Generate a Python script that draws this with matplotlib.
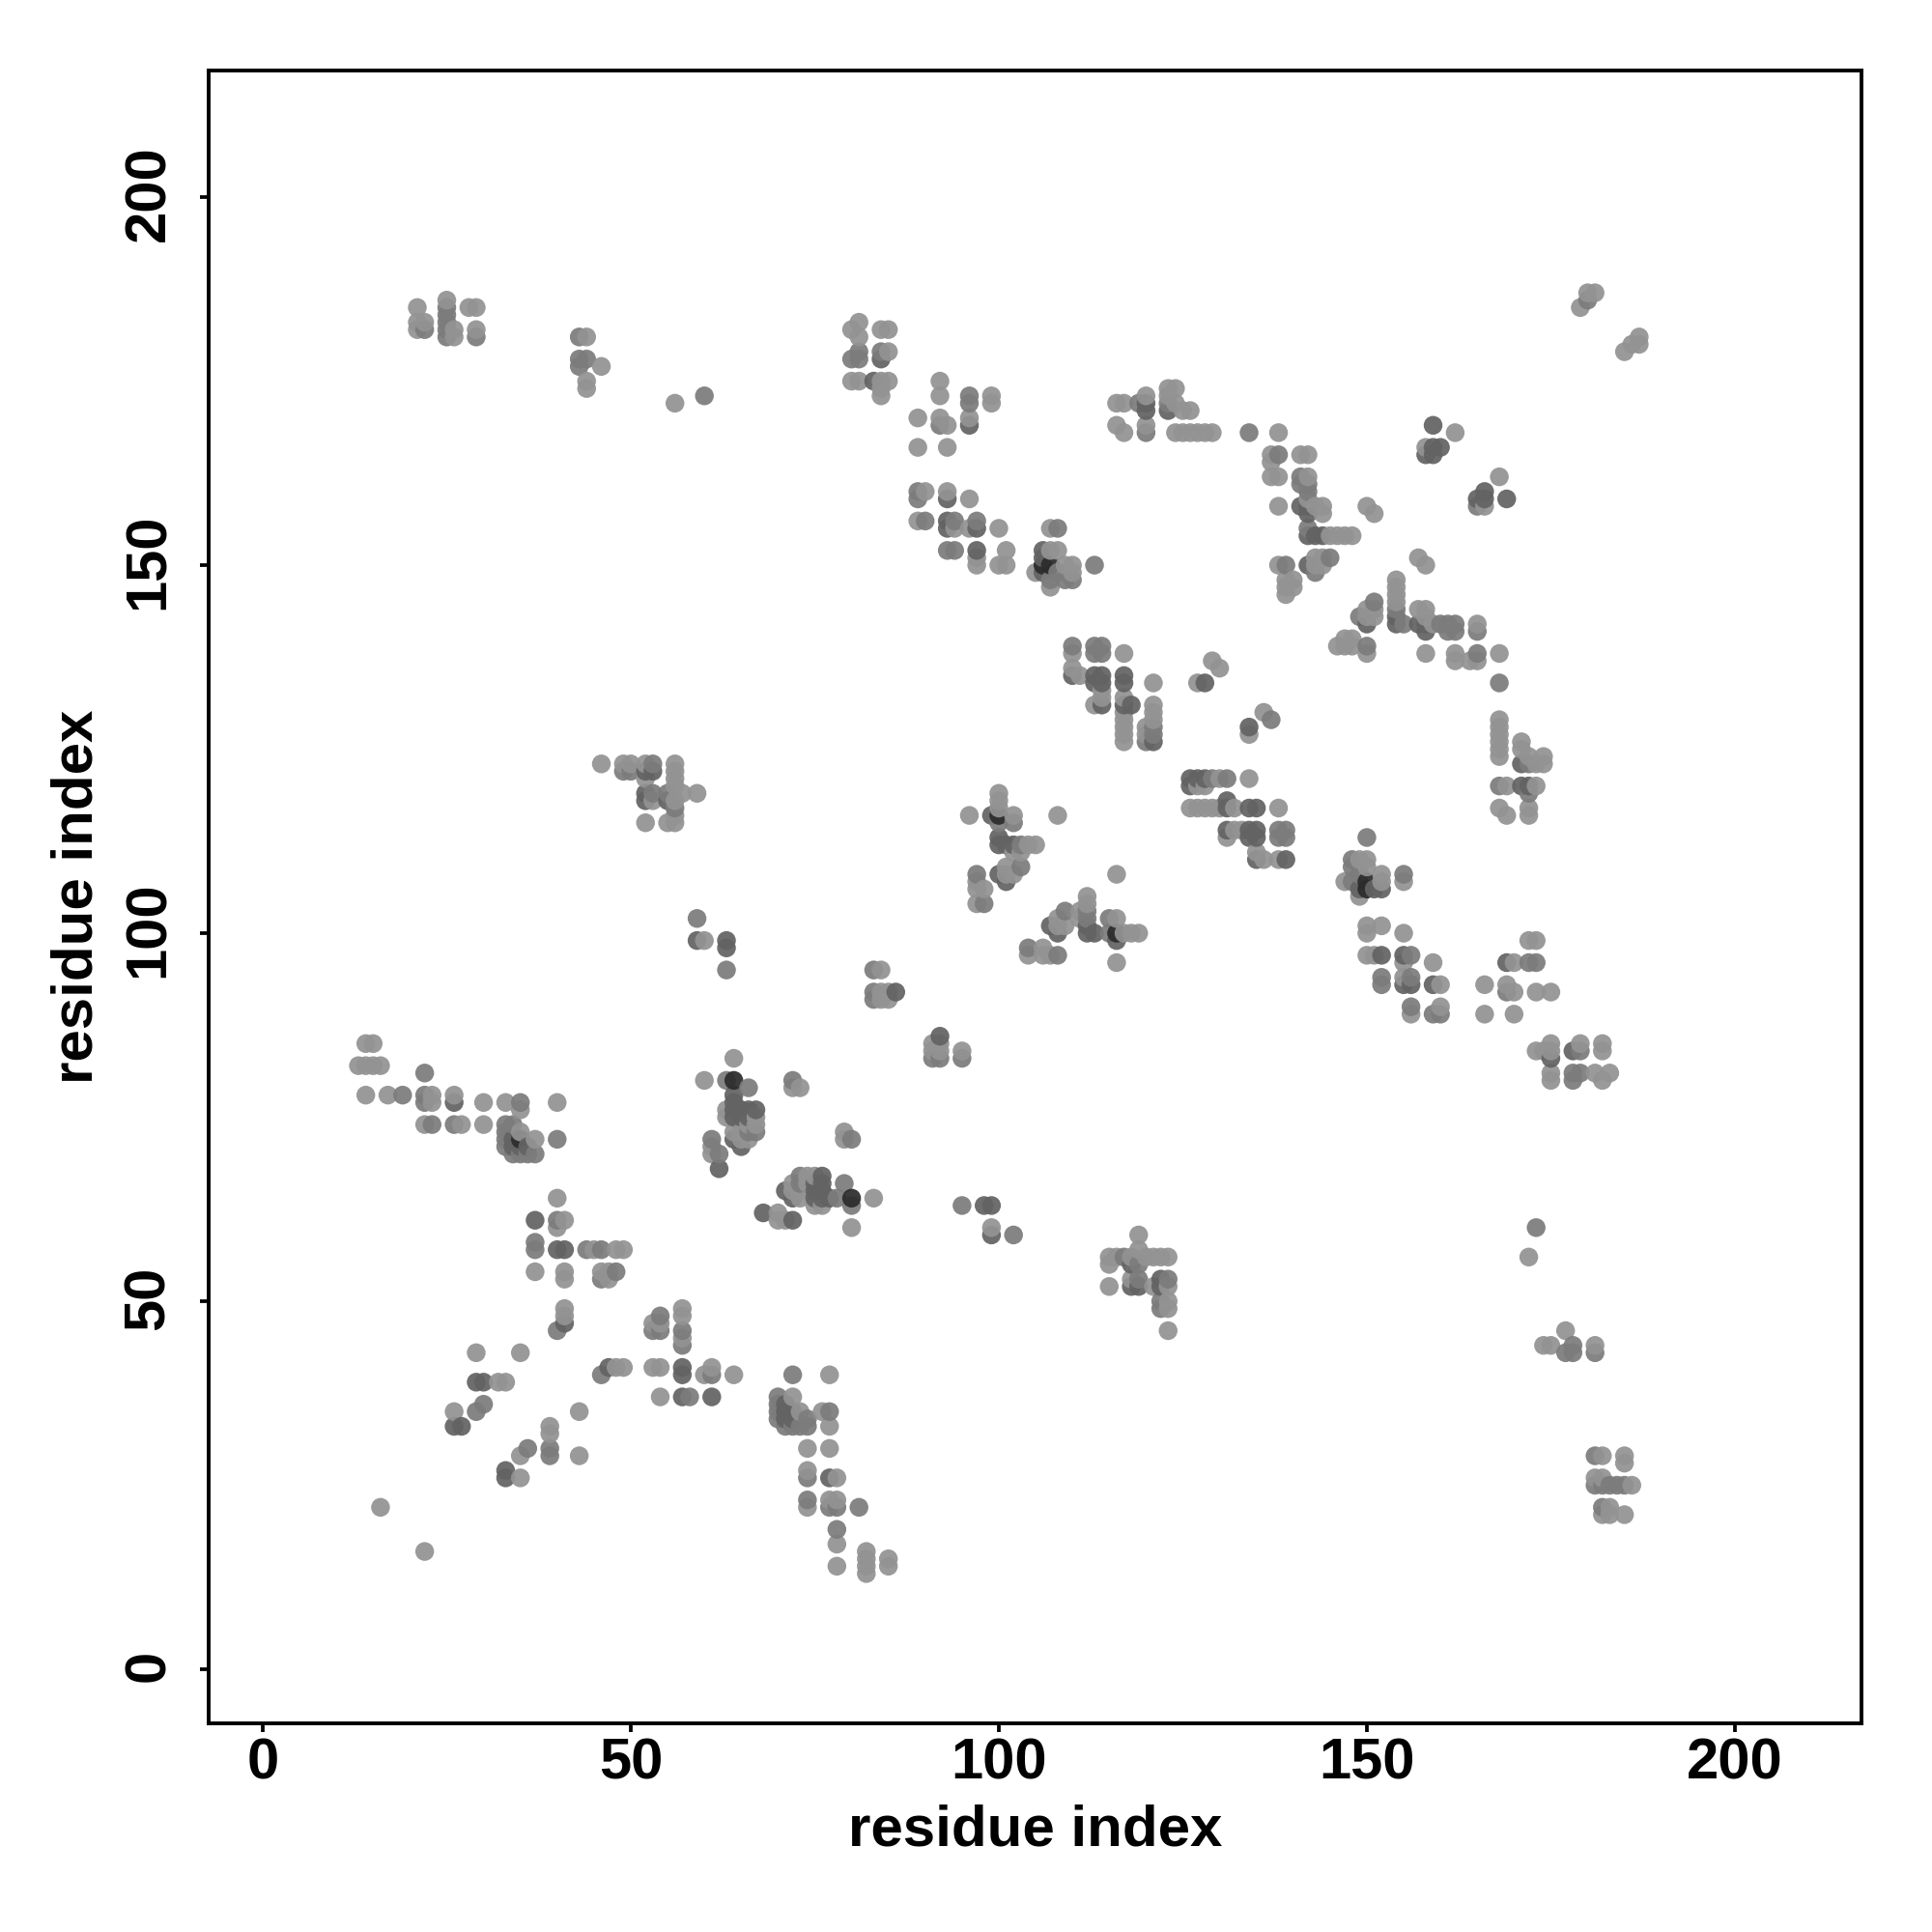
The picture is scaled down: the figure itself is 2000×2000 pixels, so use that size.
import matplotlib
matplotlib.use("Agg")
import matplotlib.pyplot as plt
from matplotlib.transforms import ScaledTranslation

# Contacts as (x residue, y residue); the map is symmetric,
# so each contact read on one side also appears mirrored.
LIGHT = [(16,22),(35,26),(26,35),(35,29),(29,43),(35,43),(32,39),(33,39),(39,32),(39,33),(43,29),(43,35),
(40,64),(41,61),(40,60),(45,57),(48,57),(49,57),(37,54),(41,54),(41,53),(46,54),(47,53),(47,54),(41,49),(41,48),
(53,47),(54,47),(57,49),(57,48),(57,45),(48,41),(49,41),(53,41),(54,41),(61,41),(60,40),(64,40),(54,37),
(70,62),(71,61),(72,66),(73,64),(73,65),(74,67),(75,63),(74,30),(74,27),(74,22),
(14,85),(15,85),(13,82),(14,82),(15,82),(16,82),(14,78),(17,78),(23,78),(23,77),(26,78),(30,77),(33,77),(35,76),(40,77),
(22,74),(27,74),(30,74),(35,73),(37,72),
(110,138),(110,136),(111,135),(114,133),(114,132),(113,131),(117,138),(117,132),(117,130),(117,129),(117,128),(117,127),
(121,134),(121,131),(121,130),(121,129),(120,128),(120,127),(129,137),(130,136),(127,134),(136,130),(134,127),
(130,121),(134,121),(127,120),(128,120),(126,117),(127,117),(128,117),(129,117),(130,117),(132,117),(138,117),
(132,114),(133,114),(131,113),(135,111),(136,110),(138,110),
(100,119),(100,118),(100,117),(96,116),(102,116),(108,116),(104,112),(105,112),(102,111),(103,111),(101,109),(102,108),
(97,107),(98,106),(97,106),(97,104),
(116,108),(112,105),(112,104),(108,102),(108,101),(111,103),(116,102),(117,100),(119,100),(116,96),
(104,97),(106,98),(106,97),(107,97),(84,95),(84,92),(85,92),(84,91),(85,91),(91,85),(91,84),(92,84),(95,84),
(21,185),(21,183),(21,182),(22,183),(25,186),(26,182),(26,181),(28,185),(29,185),(29,182),(44,181),(46,177),(44,175),(44,174),(56,172),
(80,182),(81,183),(81,181),(84,182),(85,182),(85,179),(80,175),(81,175),(84,175),(85,175),(84,174),(84,173),
(92,175),(92,173),(99,173),(99,172),(89,170),(92,170),(93,169),(96,170),(89,166),(93,166),(90,160),(93,160),(96,159),
(89,156),(94,155),(96,155),(100,155),(97,150),(97,151),(101,152),(100,150),(101,150),(107,155),
(107,152),(108,152),(105,149),(107,147),(109,150),(110,150),(110,149),
(116,172),(117,172),(116,169),(117,168),(120,173),(120,169),(123,174),(124,174),(123,173),(124,172),(125,171),(126,171),
(124,168),(125,168),(126,168),(127,168),(128,168),(129,168),(138,168),(137,165),(137,164),(137,162),(138,162),(138,158),(138,150),
(139,148),(139,147),(140,148),(139,146),(140,147),
(180,187),(181,187),(179,185),(187,181),(187,180),(186,180),(185,179),(162,168),(158,166),(168,162),(166,158),
(141,165),(142,165),(142,162),(143,158),(144,158),(144,157),(145,154),(146,154),(147,154),(148,154),(150,158),(151,157),
(143,151),(144,151),(144,150),(157,151),(158,150),(154,148),(154,147),(154,146),(154,145),
(150,144),(151,143),(151,144),(150,143),(157,144),(158,144),(159,142),(165,142),
(46,123),(49,123),(50,123),(52,123),(56,123),(56,122),(52,121),(56,121),(56,120),(57,119),(59,119),(53,118),(56,118),
(52,115),(55,115),(56,115),(56,116),(60,99),(64,83),(60,80),(63,76),(67,75),(64,73),(65,73),(66,74),(66,72),(65,72),(61,70),
(72,79),(73,79),(83,64),(80,60),(76,63),(75,67)]

MID = [(29,35),(30,36),(39,30),(39,29),(40,61),(37,58),(37,57),(44,57),(46,57),(46,53),(48,54),(40,46),(54,48),(53,46),(54,46),
(57,46),(57,44),(46,40),(61,40),(58,37),(72,40),(61,72),(62,70),(70,37),(70,36),(70,35),(70,34),(73,67),(40,72),(74,26),(74,23),
(22,81),(19,78),(22,78),(22,77),(35,77),(23,74),(26,74),(33,74),(34,74),(33,73),(33,72),(33,71),(34,70),(35,70),(36,70),(37,70),
(110,139),(113,139),(113,138),(121,128),(121,127),(120,126),(137,129),(129,121),(131,121),(138,114),(139,114),
(102,115),(103,112),(103,109),(97,108),(98,104),(112,103),(112,102),(109,103),(115,102),(115,100),(104,98),(108,97),
(83,95),(83,92),(83,91),(91,83),(92,83),(95,83),
(25,185),(25,184),(25,183),(25,182),(25,181),(22,182),(29,181),(43,181),(43,178),(44,178),(43,177),(60,173),
(80,178),(81,179),(81,178),(84,179),(96,173),(96,172),(92,169),(89,160),(89,159),(90,156),(94,156),(97,156),(93,152),(94,152),
(108,155),(107,148),(108,149),(109,148),(110,148),(113,150),(119,172),(120,168),(123,172),(134,168),(138,165),(139,150),
(180,186),(141,162),(141,161),(142,161),(142,160),(142,155),(165,158),(145,151),(143,149),(154,144),(155,142),(151,145),(149,143),
(161,142),(162,142),(161,141),(162,141),(165,141),
(49,122),(50,122),(53,123),(53,119),(55,119),(56,117),(59,102),(63,95),(63,80),(66,79),(67,73),(72,80),(80,63),(79,66),(73,66),(78,64)]

DARK = [(33,27),(33,26),(26,33),(27,33),(29,39),(30,39),(37,61),(40,57),(41,57),(41,47),(47,41),(57,41),(57,40),(57,37),(61,37),
(71,36),(71,35),(72,35),(71,34),(62,68),(68,62),(72,61),(71,65),(72,64),(75,67),(75,66),(75,65),(75,64),(64,72),(65,71),(26,77),
(34,72),(34,71),(36,71),(110,135),(113,135),(114,135),(113,134),(114,131),(117,135),(117,134),(117,131),(118,131),(121,126),
(134,128),(127,121),(128,121),(126,120),(131,118),(131,117),(134,117),(135,117),(131,114),(134,114),(135,114),(134,113),(135,113),(135,110),(139,110),
(99,116),(100,113),(100,112),(101,112),(102,112),(100,108),(101,107),(112,100),(113,100),(107,101),(108,100),(116,99),
(86,92),(92,86),(84,178),(83,175),(96,169),(93,159),(93,156),(93,155),(97,155),(97,152),
(106,152),(106,151),(106,149),(120,172),(120,171),(123,171),(141,158),
(159,169),(159,166),(160,166),(158,165),(159,165),(166,160),(165,159),(166,159),(169,159),
(142,158),(142,157),(142,154),(143,154),(144,154),(142,150),(154,143),(154,142),(150,142),(157,142),(158,142),(158,141),
(52,122),(53,122),(52,119),(52,118),(55,118),(59,99),(63,99),(63,98),(64,78),(64,76),(65,76),(66,76),(67,76),(64,77),
(76,67),(76,66),(76,65),(76,64),(77,64)]

BLACK = [(100,116),(106,150),(107,150),(116,100),(64,80),(80,64),(35,72),(71,35),(142,158)]

TICKS = [0, 50, 100, 150, 200]
XLABEL = "residue index"
YLABEL = "residue index"

TONES = [(LIGHT, "#939393"), (MID, "#7c7c7c"), (DARK, "#636363"), (BLACK, "#2c2c2c")]

plt.rcParams["font.family"] = ["Liberation Sans", "DejaVu Sans"]
plt.rcParams["font.weight"] = "bold"

fig = plt.figure(figsize=(10, 10), dpi=200)
ax = fig.add_axes([216 / 2000, 1 - 1784 / 2000, (1927 - 216) / 2000, (1784 - 73) / 2000])

# Exact readings first, then their mirrors where no reading exists.
contacts = {}
for pts, col in TONES:
    for i, j in pts:
        contacts.setdefault((i, j), col)
for pts, col in TONES:
    for i, j in pts:
        contacts.setdefault((j, i), col)
keys = sorted(contacts)
ax.scatter([k[0] for k in keys], [k[1] for k in keys], s=49,
           c=[contacts[k] for k in keys], alpha=0.93, linewidths=0, zorder=2, clip_on=True)

ax.set_xlim(-7.35, 217.2)
ax.set_ylim(-7.35, 217.2)
ax.set_xticks(TICKS)
ax.set_yticks(TICKS)
ax.tick_params(axis="both", length=3.2, width=1.35, labelsize=21.5)
ax.tick_params(axis="x", pad=2)
ax.tick_params(axis="y", pad=9)
nudge = ScaledTranslation(0, 3.5 / 200, fig.dpi_scale_trans)
for t in ax.get_yticklabels():
    t.set_rotation(90)
    t.set_va("center")
    t.set_transform(t.get_transform() + nudge)
for s in ax.spines.values():
    s.set_linewidth(1.4)
ax.set_xlabel(XLABEL, fontsize=21.6, fontweight="bold", labelpad=5)
ax.set_ylabel(YLABEL, fontsize=21.6, fontweight="bold", labelpad=7)

fig.savefig("out.png", dpi=200)
